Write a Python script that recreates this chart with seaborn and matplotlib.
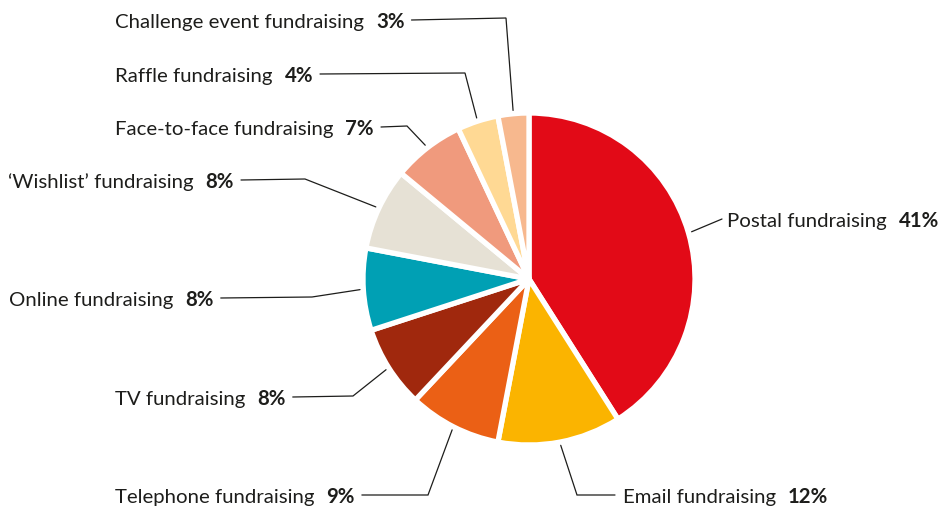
import matplotlib
matplotlib.use("Agg")
import matplotlib.pyplot as plt
import numpy as np
import seaborn as sns

# Share of income by fundraising channel (%)
channels = [
    "Postal fundraising", "Email fundraising", "Telephone fundraising",
    "TV fundraising", "Online fundraising", "\u2018Wishlist\u2019 fundraising",
    "Face-to-face fundraising", "Raffle fundraising", "Challenge event fundraising",
]
shares = [41, 12, 9, 8, 8, 8, 7, 4, 3]
colours = ["#E20A17", "#FBB400", "#EB6015", "#A0280D", "#00A0B4",
           "#E6E1D5", "#F09A7D", "#FFD994", "#F7B88E"]

sns.set_theme(style="white")
plt.rcParams["font.family"] = ["Lato", "DejaVu Sans"]

W, H = 941, 508
fig = plt.figure(figsize=(W / 100, H / 100), dpi=100)
ax = fig.add_axes([0, 0, 1, 1])

cx, cy, r = 529, H - 279, 166
wedges, _ = ax.pie(
    shares, colors=sns.color_palette(colours), startangle=90, counterclock=False,
    center=(cx, cy), radius=r, frame=True,
    wedgeprops=dict(edgecolor="white", linewidth=3.8, joinstyle="round"),
)
ax.set_xlim(0, W)
ax.set_ylim(0, H)
ax.set_aspect("equal")
ax.axis("off")

# label layout: (text x, baseline y from top, side, elbow x, elbow y from top)
layout = [
    (727, 227, "right", None, None),
    (623, 503, "right", 577, 495),
    (115, 503, "left", 428, 495),
    (115, 405, "left", 353, 396),
    (9, 306, "left", 312, 297),
    (8, 188, "left", 305, 179),
    (115, 135, "left", 407, 126),
    (115, 82, "left", 465, 73),
    (115, 28, "left", 506, 18),
]

fig.canvas.draw()
renderer = fig.canvas.get_renderer()
fs = 14.7
tc = "#1d1d1b"
for w, name, val, (tx, base, side, ex, ey) in zip(wedges, channels, shares, layout):
    mid = np.deg2rad((w.theta1 + w.theta2) / 2)
    ax_pt = (cx + r * 1.02 * np.cos(mid), cy + r * 1.02 * np.sin(mid))
    t1 = ax.text(tx, H - base, name, ha="left", va="baseline", fontsize=fs, color=tc)
    bb = t1.get_window_extent(renderer)
    t2 = ax.text(bb.x1 + 12, H - base, f"{val}%", ha="left", va="baseline",
                 fontsize=fs, fontweight="bold", color=tc)
    bb2 = t2.get_window_extent(renderer)
    ly = H - base + 8
    if side == "left":
        xs = [bb2.x1 + 7, ex, ax_pt[0]]
        ys = [ly, H - ey, ax_pt[1]]
    else:
        if ex is None:
            xs = [tx - 5, ax_pt[0]]
            ys = [ly, ax_pt[1]]
        else:
            xs = [tx - 8, ex, ax_pt[0]]
            ys = [ly, H - ey, ax_pt[1]]
    ax.plot(xs, ys, color="#1d1d1b", linewidth=0.9, solid_joinstyle="miter")

fig.savefig("out.png", dpi=100, facecolor="white")
